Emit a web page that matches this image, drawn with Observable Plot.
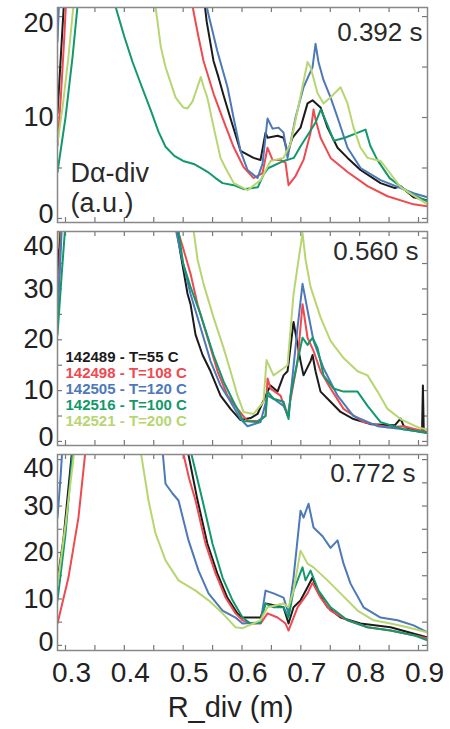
<!DOCTYPE html>
<html><head><meta charset="utf-8">
<script src="https://cdn.jsdelivr.net/npm/d3@7"></script>
<script src="https://cdn.jsdelivr.net/npm/@observablehq/plot@0.6"></script>
<style>
body{margin:0;background:#fff;}
#chart svg{display:block;}
</style></head><body><div id="chart"></div>
<script>
// ---- legend / series ----
const shots = ["142489 - T=55 C","142498 - T=108 C","142505 - T=120 C","142516 - T=100 C","142521 - T=200 C"];
const colors = ["#1b1b1b","#ee4a50","#4d79b9","#12986b","#b7d672"];
const times = ["0.392 s","0.560 s","0.772 s"];

// ---- axis ticks ----
const xTicks = [0.3,0.4,0.5,0.6,0.7,0.8,0.9];
const xMinor = [0.3,0.35,0.4,0.45,0.5,0.55,0.6,0.65,0.7,0.75,0.8,0.85,0.9];
const y1Ticks = [0,10,20];
const y1Minor = [0,5,10,15,20];
const y23Ticks = [0,10,20,30,40];
const y23Minor = [0,5,10,15,20,25,30,35,40];

// ---- panel 1 : 0.392 s  [R_div (m), D-alpha (a.u.)] ----
const p1Black = [[0.2864,10.4],[0.290,14],[0.294,18],[0.298,22],[0.40,40],[0.536,21.5],[0.540,19.5],[0.5516,15.6],[0.560,14],[0.5686,12.2],[0.5805,9.9],[0.5975,6.7],[0.6196,6.0],[0.6315,5.8],[0.6400,8.5],[0.6434,8.0],[0.6604,8.2],[0.6706,8.0],[0.6774,6.6],[0.6859,8.0],[0.6995,9.0],[0.7114,11.4],[0.7199,11.7],[0.7335,11.0],[0.7454,9.0],[0.7624,7.0],[0.7794,6.0],[0.8015,4.8],[0.8355,3.5],[0.860,3.0],[0.8695,3.2],[0.8916,2.1],[0.9153,1.8]];
const p1Red = [[0.2864,7.2],[0.292,12],[0.298,18],[0.303,24],[0.40,40],[0.515,21.5],[0.5176,20.5],[0.526,18],[0.5346,15.6],[0.552,12.3],[0.5686,9.7],[0.5856,7.1],[0.6026,5.1],[0.6196,4.0],[0.6349,4.5],[0.6434,7.0],[0.6519,5.8],[0.6655,5.8],[0.6740,5.5],[0.6791,3.3],[0.6910,4.2],[0.7046,5.8],[0.7165,8.5],[0.7216,10.8],[0.7250,9.8],[0.7335,8.0],[0.7505,6.0],[0.7794,4.6],[0.8134,3.2],[0.8474,2.2],[0.8916,1.4],[0.9153,1.2]];
const p1Blue = [[0.2864,17.5],[0.290,23],[0.40,40],[0.538,22],[0.5414,20.6],[0.558,16.6],[0.5754,13.0],[0.5856,10.0],[0.5975,6.7],[0.6094,4.8],[0.6264,4.0],[0.6349,5.4],[0.6434,9.9],[0.6519,8.9],[0.6621,9.0],[0.6706,8.5],[0.6774,6.0],[0.6910,10.0],[0.7046,13.0],[0.7199,15.0],[0.7250,17.3],[0.7300,15.5],[0.7386,13.7],[0.7505,12.0],[0.7624,10.0],[0.7794,7.0],[0.8015,5.0],[0.8355,3.8],[0.8916,2.5],[0.9153,2.1]];
const p1Green = [[0.2864,4.6],[0.300,10],[0.312,16],[0.322,22],[0.370,30],[0.385,21],[0.400,18],[0.414,15.5],[0.430,13],[0.445,10.7],[0.458,8.6],[0.470,7.1],[0.485,6.2],[0.500,5.7],[0.518,5.4],[0.530,5.0],[0.542,4.6],[0.555,4.0],[0.567,3.5],[0.586,3.3],[0.603,2.9],[0.615,3.0],[0.627,3.1],[0.637,4.4],[0.645,5.0],[0.671,5.7],[0.688,6.0],[0.700,7.2],[0.712,8.3],[0.725,9.5],[0.734,10.8],[0.745,9.3],[0.756,7.7],[0.775,8.0],[0.797,8.5],[0.810,8.8],[0.818,7.2],[0.830,5.8],[0.851,4.0],[0.885,2.5],[0.9153,1.7]];
const p1Lime = [[0.2864,7.5],[0.295,11],[0.305,16],[0.315,22],[0.36,40],[0.453,21],[0.462,17],[0.470,15],[0.487,12],[0.500,11],[0.5075,10.9],[0.516,11.6],[0.523,12.8],[0.530,14],[0.535,13],[0.541,12],[0.552,9],[0.5635,6],[0.572,5],[0.586,3.5],[0.6094,2.8],[0.6315,3.8],[0.6485,5.7],[0.6706,6.0],[0.6825,7.4],[0.6944,10.7],[0.7114,15.5],[0.7165,15],[0.7284,12.4],[0.7386,11.4],[0.7505,12],[0.7624,12.7],[0.7675,13],[0.7794,11.4],[0.7896,9],[0.8015,7],[0.8134,6],[0.8355,5.7],[0.8474,4.8],[0.8695,3.1],[0.9153,1.4]];

// ---- panel 2 : 0.560 s ----
const p2Black = [[0.2864,33],[0.291,43],[0.40,60],[0.4870,43],[0.4955,37],[0.5075,29],[0.5125,27],[0.5210,21],[0.5330,17],[0.5465,13.8],[0.5635,9],[0.5805,6.4],[0.5975,4.2],[0.6145,4.6],[0.6264,5.4],[0.6434,9.8],[0.6485,11],[0.6604,9.8],[0.6706,13],[0.6774,13.8],[0.6876,23.5],[0.6995,15.8],[0.7046,13],[0.7165,15.8],[0.7199,17],[0.7250,13.8],[0.7335,9.8],[0.7505,7.8],[0.7675,5.8],[0.7896,4.4],[0.8185,3.4],[0.8600,3.2],[0.8644,3.8],[0.8695,4.5],[0.8750,3.0],[0.8865,2.4],[0.9060,1.8],[0.9075,11],[0.9090,1.8],[0.9153,1.7]];
const p2Red = [[0.2864,26],[0.290,35],[0.293,43],[0.40,60],[0.4870,43],[0.500,38],[0.5125,33],[0.5244,27],[0.5414,20.4],[0.5584,13.8],[0.5754,9],[0.5924,6.4],[0.6094,4],[0.6264,4],[0.6400,5],[0.6434,12.4],[0.6485,10.4],[0.6655,9],[0.6774,5],[0.6944,15.8],[0.7029,27],[0.7114,20.4],[0.7216,17.8],[0.7335,13.8],[0.7505,10.4],[0.7726,6.4],[0.8066,3.8],[0.8474,2.8],[0.8746,3.0],[0.9085,2.0],[0.9153,1.9]];
const p2Blue = [[0.2864,24],[0.291,35],[0.294,43],[0.40,60],[0.4850,43],[0.498,36],[0.5125,29],[0.5295,22.4],[0.5465,15.8],[0.5635,11],[0.5805,7.8],[0.5975,4.4],[0.6094,3],[0.6315,3.8],[0.6434,9],[0.6536,8.4],[0.6706,7],[0.6791,5],[0.6825,9],[0.6944,22.4],[0.7029,31],[0.7114,25.8],[0.7216,19.8],[0.7386,14.4],[0.7624,9],[0.7896,5],[0.8304,3],[0.8746,2.4],[0.9085,1.8],[0.9153,1.7]];
const p2Green = [[0.2864,21],[0.293,32],[0.300,43],[0.40,60],[0.4900,43],[0.500,35],[0.5125,30.4],[0.5295,25],[0.5516,17],[0.5686,11.8],[0.5856,7.8],[0.6026,4],[0.6264,3.8],[0.6400,5],[0.6434,9.8],[0.6536,8.4],[0.6706,7.8],[0.6791,4.4],[0.6825,9],[0.6944,15.8],[0.7029,20.4],[0.7114,19],[0.7199,20.4],[0.7284,18.4],[0.7386,13],[0.7556,10.4],[0.7726,9.8],[0.7964,9.8],[0.8134,7],[0.8355,3.8],[0.8746,2.4],[0.9085,1.8],[0.9153,1.7]];
const p2Lime = [[0.2864,38],[0.289,43],[0.40,60],[0.5160,43],[0.5244,35.8],[0.5346,31],[0.5516,24.4],[0.5686,18.4],[0.5805,13.8],[0.5924,9],[0.6026,5.8],[0.6196,5.4],[0.6366,7.8],[0.6417,16],[0.6536,13],[0.6706,14.4],[0.6774,15],[0.6876,29],[0.6944,34.4],[0.7029,41],[0.7080,35.8],[0.7165,30.4],[0.7335,24.4],[0.7505,19.8],[0.7726,16.4],[0.7964,13.8],[0.8134,13],[0.8304,9.8],[0.8474,6.4],[0.8695,4.4],[0.8984,2.8],[0.9153,2.3]];

// ---- panel 3 : 0.772 s ----
const p3Black = [[0.2864,14],[0.2966,23],[0.312,43],[0.40,60],[0.5075,42],[0.524,31.5],[0.541,22],[0.558,15.5],[0.575,10.3],[0.592,6.9],[0.6009,6.0],[0.6315,6.0],[0.640,9.0],[0.6706,8.2],[0.6791,4.7],[0.6876,8.2],[0.6995,9.7],[0.7114,12.5],[0.7199,14.6],[0.7301,11.2],[0.7454,8.2],[0.7675,6.0],[0.8015,4.7],[0.8525,3.9],[0.9153,1.7]];
const p3Red = [[0.2864,4.7],[0.305,14.6],[0.322,27.5],[0.334,42],[0.42,60],[0.4990,42],[0.510,36],[0.521,31.2],[0.538,21.9],[0.555,15.5],[0.572,10.3],[0.589,6.9],[0.6009,5.4],[0.6145,4.7],[0.6315,4.7],[0.6434,6.9],[0.6604,6.0],[0.674,4.7],[0.6791,3.2],[0.6944,8.2],[0.7114,11.2],[0.7199,13.5],[0.7335,10.3],[0.7505,7.5],[0.7794,5.4],[0.8134,3.9],[0.8525,3.2],[0.8916,2.2],[0.9153,1.5]];
const p3Blue = [[0.2864,27.5],[0.2915,36],[0.295,43],[0.40,60],[0.4649,42],[0.470,34.8],[0.4819,32.7],[0.4921,31.2],[0.5091,22.6],[0.5261,16.1],[0.5431,11.2],[0.5669,7.5],[0.589,6.0],[0.6009,4.7],[0.6315,4.9],[0.640,11.8],[0.6536,11.2],[0.6706,10.3],[0.6791,6.9],[0.6876,14.6],[0.6995,29],[0.7046,27.5],[0.7131,30.5],[0.7216,25.4],[0.7369,23.5],[0.7505,21],[0.7624,22.6],[0.7726,17.6],[0.7845,13.3],[0.8066,8.2],[0.8355,6.0],[0.8644,5.4],[0.8916,4.3],[0.9153,2.8]];
const p3Green = [[0.2864,9.7],[0.300,24],[0.313,43],[0.40,60],[0.5125,42],[0.5329,31.2],[0.5499,21.9],[0.5669,14.6],[0.5839,9.7],[0.6009,6.0],[0.6145,4.7],[0.6315,4.9],[0.640,9.0],[0.6536,8.2],[0.6706,8.2],[0.6791,6.0],[0.6876,11.8],[0.7029,16.8],[0.708,14],[0.7165,16.1],[0.7301,11.8],[0.7505,8.2],[0.7794,5.4],[0.8134,3.9],[0.8525,3.2],[0.8916,2.2],[0.9153,1.1]];
const p3Lime = [[0.2864,13],[0.300,26],[0.316,43],[0.38,60],[0.4275,42],[0.4411,31.2],[0.453,24.1],[0.470,18.3],[0.4921,14],[0.521,11.8],[0.5431,9.7],[0.5669,6.9],[0.589,3.9],[0.6009,3.7],[0.6315,5.4],[0.6434,8.2],[0.6706,9.0],[0.6791,8.2],[0.6876,11.8],[0.6995,20.4],[0.7114,17.6],[0.7216,16.8],[0.7454,14],[0.7675,11.2],[0.7964,7.5],[0.8236,5.4],[0.8525,4.7],[0.8814,3.9],[0.9153,2.8]];

const FONT = "'Liberation Sans', Arial, Helvetica, sans-serif";
const W = 450, ML = 57, MR = 23;
const xDomain = [0.2864, 0.9153];

function panel(o) {
  const h = o.height - o.marginTop - o.marginBottom;
  const w = W - ML - MR;
  const yAx = {tickSize: 0, tickPadding: 4, fontSize: 27, fill: "#222"};
  const marks = [
    Plot.ruleX(xMinor, {x: d => d, insetTop: h - 5, stroke: "#777", strokeWidth: 1.2}),
    Plot.ruleX(xMinor, {x: d => d, insetBottom: h - 5, stroke: "#777", strokeWidth: 1.2}),
    Plot.ruleY(o.yMinor, {y: d => d, insetRight: w - 5, stroke: "#777", strokeWidth: 1.2}),
    Plot.ruleY(o.yMinor, {y: d => d, insetLeft: w - 5, stroke: "#777", strokeWidth: 1.2}),
    ...o.series.map((s, i) => Plot.line(s, {x: d => d[0], y: d => d[1], stroke: colors[i], strokeWidth: 2, clip: true})),
    Plot.frame({stroke: "#888", strokeWidth: 1.5}),
    Plot.axisY(o.yTicks.slice(0, 1), {...yAx, dy: o.zeroDy}),
    Plot.axisY(o.yTicks.slice(1, -1), yAx),
    Plot.axisY(o.yTicks.slice(-1), {...yAx, dy: o.topDy}),
    Plot.text([o.time], {frameAnchor: "top-right", textAnchor: "end", lineAnchor: "middle", dx: o.timeDx, dy: o.timeDy, fontSize: 26, fill: "#2a2a2a"})
  ];
  if (o.extra) marks.push(...o.extra);
  return Plot.plot({
    width: W, height: o.height,
    marginLeft: ML, marginRight: MR, marginTop: o.marginTop, marginBottom: o.marginBottom,
    style: {fontFamily: FONT, background: "white", color: "#222", overflow: "visible"},
    x: o.xAxis ? {domain: xDomain} : {domain: xDomain, axis: null},
    y: {domain: o.yDomain},
    marks
  });
}

const chart = document.getElementById("chart");

chart.append(panel({
  height: 226, marginTop: 7, marginBottom: 4,
  yDomain: [-0.4, 20.9], yTicks: y1Ticks, yMinor: y1Minor, zeroDy: -4, topDy: 7,
  series: [p1Black, p1Red, p1Blue, p1Green, p1Lime],
  time: times[0], timeDx: -5, timeDy: 25,
  extra: [
    Plot.text(["D\u03b1-div"], {frameAnchor: "top-left", textAnchor: "start", lineAnchor: "middle", dx: 13, dy: 166, fontSize: 27, fill: "#2a2a2a"}),
    Plot.text(["(a.u.)"], {frameAnchor: "top-left", textAnchor: "start", lineAnchor: "middle", dx: 13, dy: 196, fontSize: 27, fill: "#2a2a2a"})
  ]
}));

chart.append(panel({
  height: 224, marginTop: 5, marginBottom: 5,
  yDomain: [-0.8, 41.3], yTicks: y23Ticks, yMinor: y23Minor, zeroDy: -4, topDy: 8,
  series: [p2Black, p2Red, p2Blue, p2Green, p2Lime],
  time: times[1], timeDx: -9, timeDy: 20,
  extra: shots.map((s, i) => Plot.text([s], {frameAnchor: "top-left", textAnchor: "start", lineAnchor: "middle", dx: 8, dy: 126 + i * 15.8, fontSize: 15, fontWeight: "bold", fill: colors[i]}))
}));

chart.append(panel({
  height: 279, marginTop: 4, marginBottom: 79,
  yDomain: [-1.1, 41.1], yTicks: y23Ticks, yMinor: y23Minor, zeroDy: -3, topDy: 9,
  series: [p3Black, p3Red, p3Blue, p3Green, p3Lime],
  time: times[2], timeDx: -12, timeDy: 19,
  xAxis: true,
  extra: [
    Plot.axisX(xTicks, {tickSize: 0, tickPadding: 12, fontSize: 28, fill: "#222", dx: 6, tickFormat: d => d.toFixed(1)}),
    Plot.text(["R_div (m)"], {frameAnchor: "bottom", lineAnchor: "middle", dx: -12, dy: 57, fontSize: 29, fill: "#222"})
  ]
}));
</script></body></html>
